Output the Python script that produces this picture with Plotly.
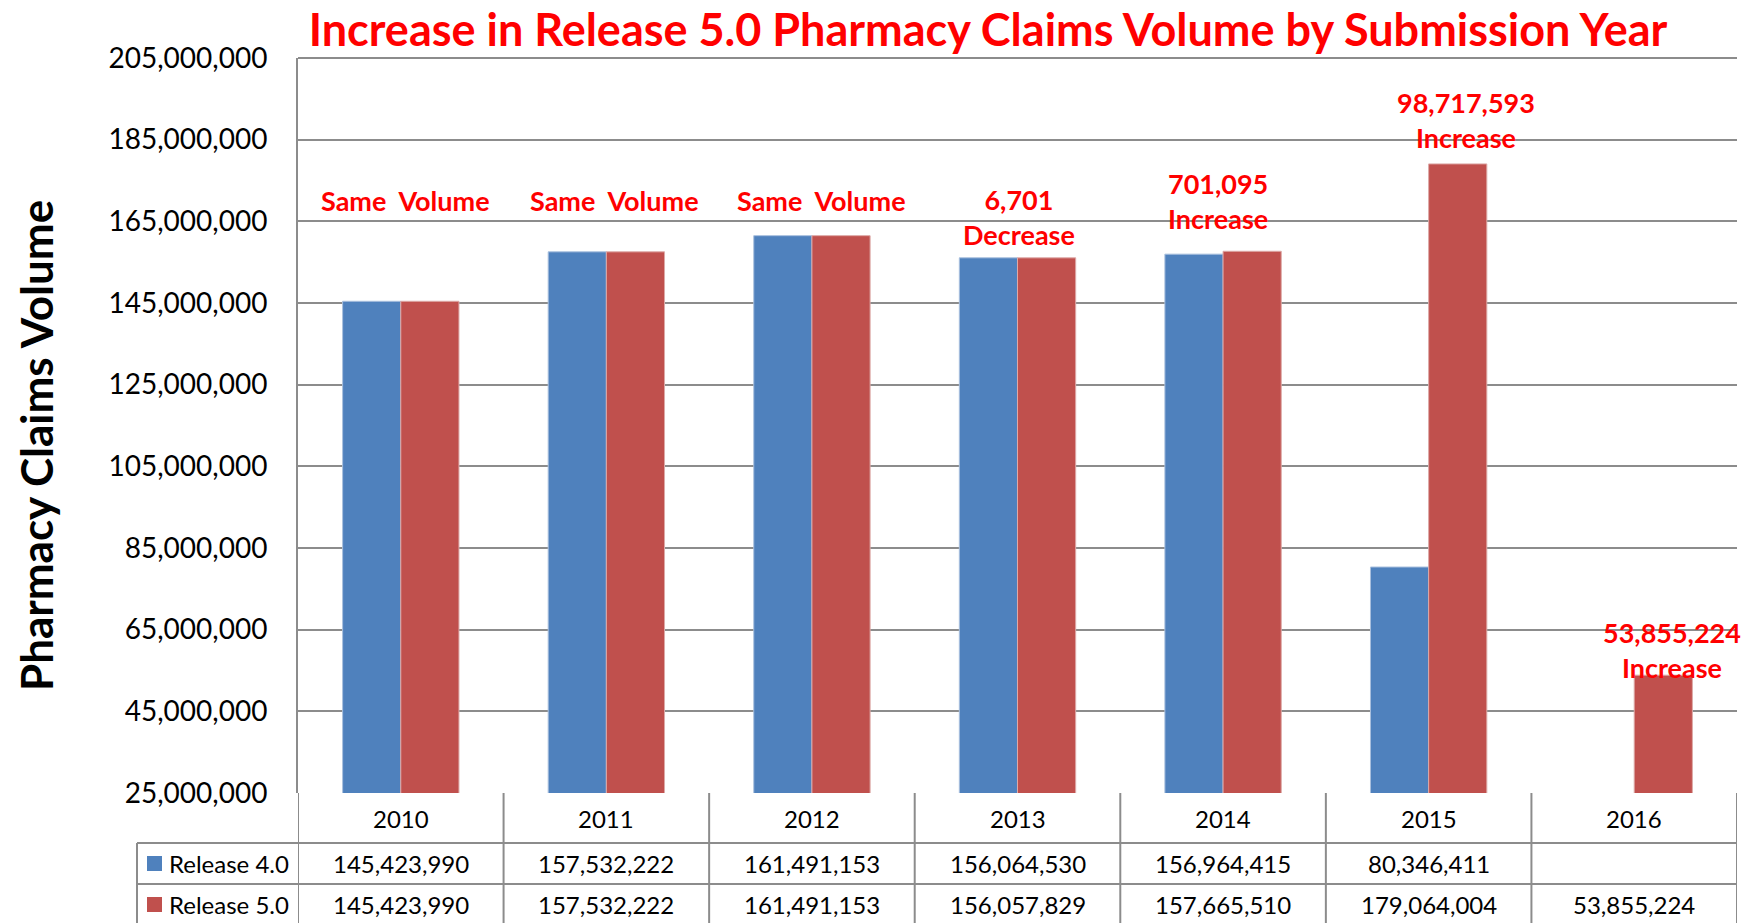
import plotly.graph_objects as go

# ---------------- data ----------------
categories = ["2010", "2011", "2012", "2013", "2014", "2015", "2016"]
release4 = [145423990, 157532222, 161491153, 156064530, 156964415, 80346411, None]
release5 = [145423990, 157532222, 161491153, 156057829, 157665510, 179064004, 53855224]
series_names = ["Release 4.0", "Release 5.0"]
note_text = ["Same  Volume", "Same  Volume", "Same  Volume",
             "6,701<br>Decrease", "701,095<br>Increase",
             "98,717,593<br>Increase", "53,855,224<br>Increase"]
# label anchor heights (data units) and horizontal nudges (px)
note_y = [170.2e6, 170.2e6, 170.2e6, 166.0e6, 170.0e6, 189.8e6, 60.1e6]
note_dx = [5, 8, 10, 1, -5, 37, 38]
y_ticks = list(range(25000000, 205000001, 20000000))

# ---------------- styling ----------------
BLUE = "#4F81BD"
RED = "#C0504D"
GRID = "#8C8C8C"
FONT = "Lato"
W, H = 1742, 923
L, R, T, B = 298, 5, 58, 130
PW, PH = W - L - R, H - T - B


def py(pix):
    """pixel y -> paper y"""
    return (H - B - pix) / PH


def px(pix):
    """pixel x -> paper x"""
    return (pix - L) / PW


fig = go.Figure()
fig.add_trace(go.Bar(x=categories, y=release4, name=series_names[0],
                     marker=dict(color=BLUE, line=dict(color="#A9C0DE", width=1))))
fig.add_trace(go.Bar(x=categories, y=release5, name=series_names[1],
                     marker=dict(color=RED, line=dict(color="#DDA9A7", width=1))))

shapes = []
annotations = []

# table grid lines
y_top = py(H - B)
y_r1 = py(843)
y_r2 = py(884)
y_bot = py(H + 5)
n = len(categories)
for i in range(n + 1):
    shapes.append(dict(type="line", xref="x", yref="paper", x0=i - 0.5, x1=i - 0.5,
                       y0=y_top, y1=y_bot, line=dict(color=GRID, width=2)))
for yy in (y_r1, y_r2):
    shapes.append(dict(type="line", xref="paper", yref="paper", x0=px(137), x1=1,
                       y0=yy, y1=yy, line=dict(color=GRID, width=2)))
shapes.append(dict(type="line", xref="paper", yref="paper", x0=px(137), x1=px(137),
                   y0=y_r1, y1=y_bot, line=dict(color=GRID, width=2)))
# top border of plot (at 205M)
shapes.append(dict(type="line", xref="paper", yref="paper", x0=0, x1=1,
                   y0=1, y1=1, line=dict(color=GRID, width=2)))

# category row
cat_y = py((H - B + 843) / 2)
row_y = [py((843 + 884) / 2), py((884 + H) / 2 + 1)]
for i, c in enumerate(categories):
    annotations.append(dict(x=i, y=cat_y, xref="x", yref="paper", text=c, showarrow=False,
                            xanchor="center", yanchor="middle",
                            font=dict(family=FONT, size=24, color="black")))
for r, vals in enumerate([release4, release5]):
    for i, v in enumerate(vals):
        if v is None:
            continue
        annotations.append(dict(x=i, y=row_y[r], xref="x", yref="paper", text=f"{v:,}",
                                showarrow=False, xanchor="center", yanchor="middle",
                                font=dict(family=FONT, size=24, color="black")))
    # legend key
    col = [BLUE, RED][r]
    shapes.append(dict(type="rect", xref="paper", yref="paper", x0=px(147), x1=px(162),
                       y0=row_y[r] - 7.5 / PH, y1=row_y[r] + 7.5 / PH,
                       fillcolor=col, line=dict(width=0)))
    annotations.append(dict(x=px(167), y=row_y[r], xref="paper", yref="paper",
                            text=series_names[r], showarrow=False, xanchor="left",
                            yanchor="middle",
                            font=dict(family=FONT, size=24, color="black")))

# notes above bars
for i, (t, yv, dx) in enumerate(zip(note_text, note_y, note_dx)):
    annotations.append(dict(x=i, y=yv, xref="x", yref="y", text=t, showarrow=False,
                            xanchor="center", yanchor="middle", xshift=dx,
                            font=dict(family=FONT, size=27, color="#FF0000",
                                      weight="bold")))

# y-axis title
annotations.append(dict(x=px(36), y=py(446), xref="paper", yref="paper",
                        text="Pharmacy Claims Volume", textangle=-90, showarrow=False,
                        xanchor="center", yanchor="middle",
                        font=dict(family=FONT, size=44, color="black", weight="bold")))

fig.update_layout(
    width=W, height=H,
    margin=dict(l=L, r=R, t=T, b=B, pad=0),
    paper_bgcolor="white", plot_bgcolor="white",
    showlegend=False,
    barmode="group", bargap=0.434, bargroupgap=0,
    title=dict(text="Increase in Release 5.0 Pharmacy Claims Volume by Submission Year",
               x=988 / W, xanchor="center", y=1 - 30 / H, yanchor="middle",
               font=dict(family=FONT, size=45, color="#FF0000", weight="bold")),
    xaxis=dict(type="category", range=[-0.5, n - 0.5], showticklabels=False,
               showgrid=False, showline=False, zeroline=False, ticks=""),
    yaxis=dict(range=[25000000, 205000000], tickvals=y_ticks, tickformat=",d",
               showgrid=True, gridcolor=GRID, gridwidth=2, zeroline=False,
               showline=True, linecolor=GRID, linewidth=2, ticks="",
               ticklabelstandoff=23,
               tickfont=dict(family=FONT, size=28, color="black")),
    shapes=shapes,
    annotations=annotations,
)

fig.write_html("out.html", config={"displayModeBar": False},
               post_script="document.body.style.margin='0';document.body.style.overflow='hidden';")
